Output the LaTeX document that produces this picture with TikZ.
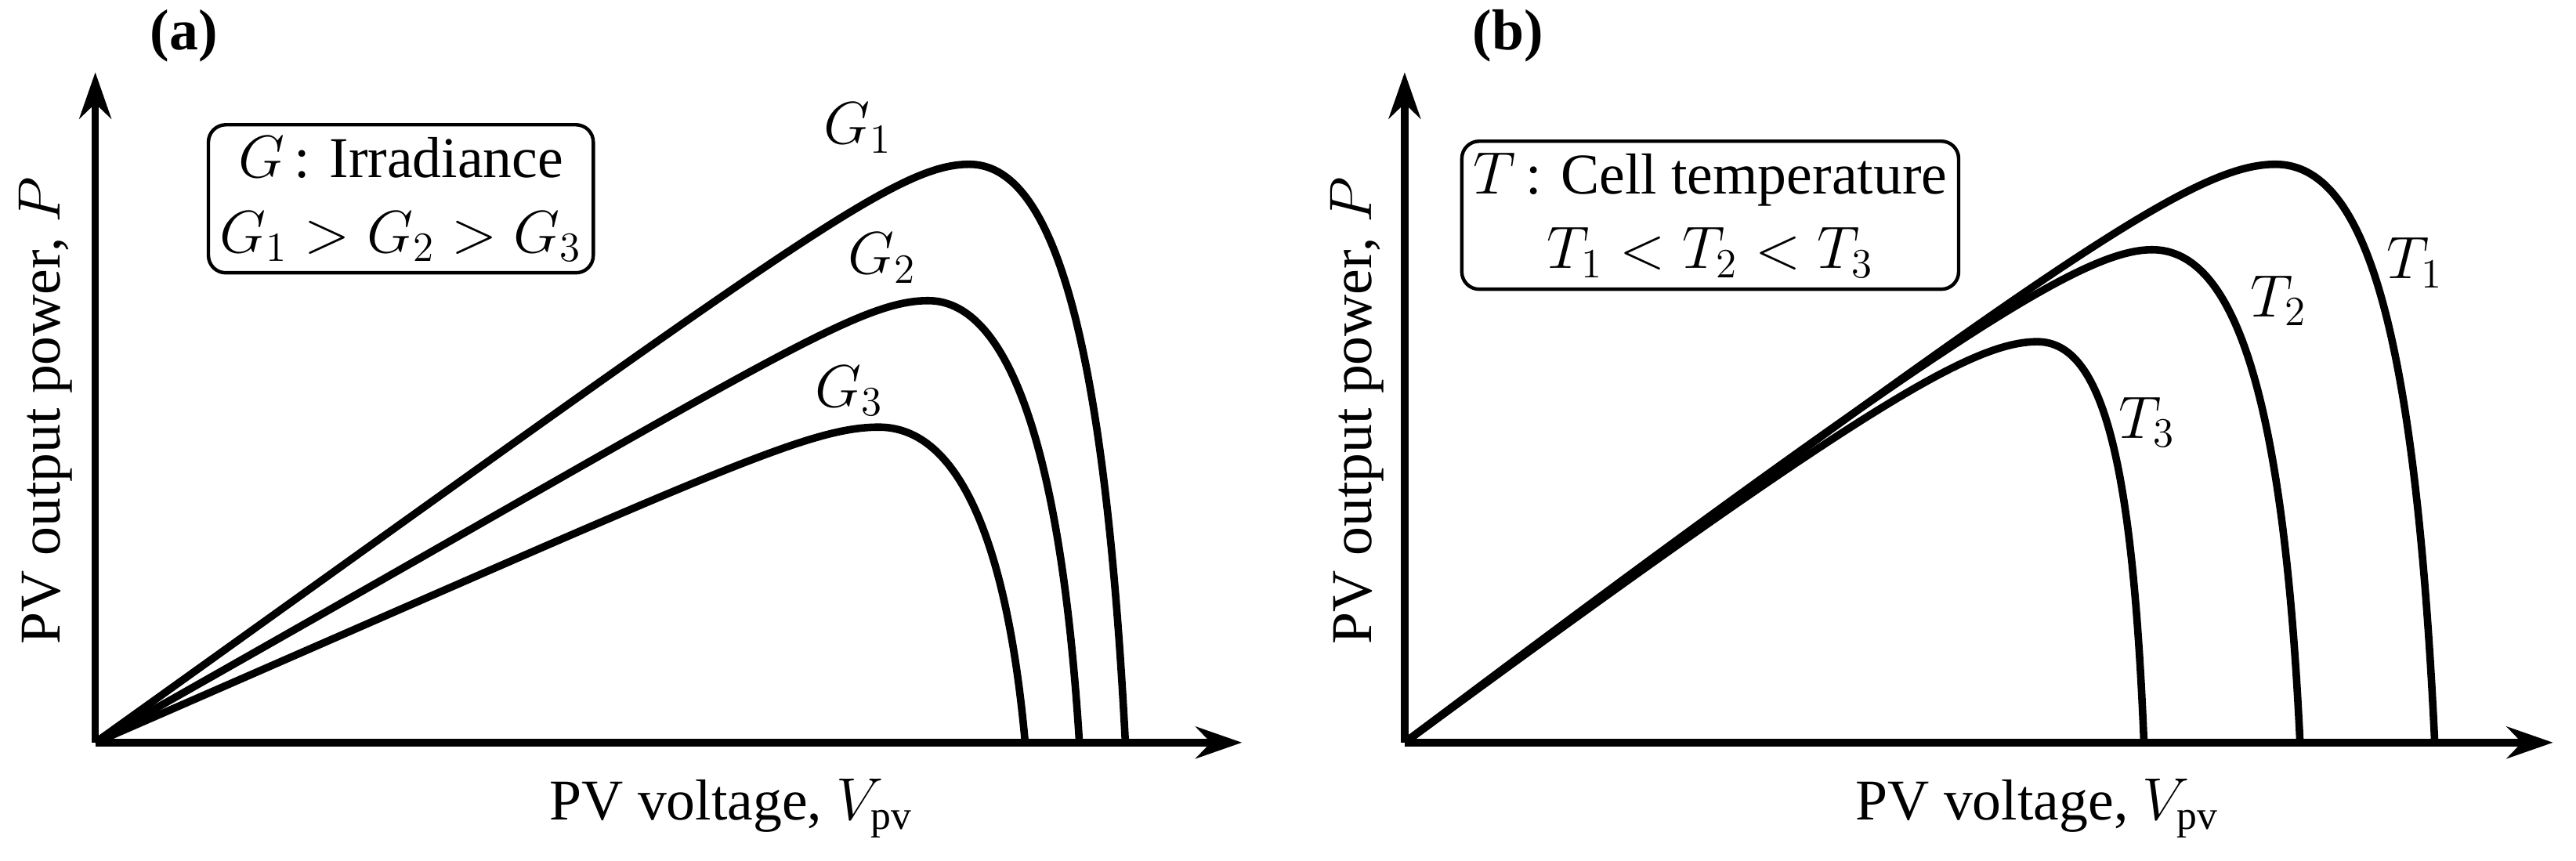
\documentclass[tikz,border=0pt]{standalone}
\usepackage{fontspec}
\setmainfont{Liberation Serif}
\usetikzlibrary{arrows.meta}
\begin{document}
\begin{tikzpicture}[x=0.02cm,y=-0.02cm,
  curve/.style={line width=2.6pt,line join=round},
  axis/.style={line width=2.6pt,-{Stealth[length=16pt,width=11pt]}},
  lbl/.style={font=\fontsize{20}{24}\selectfont},
  info/.style={draw,line width=1.2pt,rounded corners=6pt,align=center,font=\fontsize{20}{26}\selectfont,inner sep=4pt}]
\useasboundingbox (0,0) rectangle (1568,524);
% panel a
\coordinate (Oa) at (58,452);
\coordinate (Ya) at (58,44);
\coordinate (Xa) at (756,452);
\draw[axis] (Oa) -- (Ya);
\draw[axis] (Oa) -- (Xa);
\draw[curve] (Oa) .. controls (480,150) and (545,100) .. (590,100) .. controls (640,100) and (672,200) .. (685,452);
\draw[curve] (Oa) .. controls (460,225) and (520,183) .. (565,183) .. controls (610,183) and (645,260) .. (657,452);
\draw[curve] (Oa) .. controls (430,290) and (490,260) .. (535,260) .. controls (580,260) and (612,320) .. (624,452);
\node[lbl] (g1) at (522,78) {$G_1$};
\node[lbl] (g2) at (537,157) {$G_2$};
\node[lbl] (g3) at (517,238) {$G_3$};
\node[info] (ba) at (244,121) {$G$\,: Irradiance\\ $G_1 > G_2 > G_3$};
\node[lbl,rotate=90] (ya) at (28,250) {PV output power, $P$};
\node[lbl] (xa) at (445,492) {PV voltage, $V_{\mathrm{pv}}$};
\node[lbl] (ta) at (112,22) {\textbf{(a)}};
% panel b
\coordinate (Ob) at (855,452);
\coordinate (Yb) at (855,44);
\coordinate (Xb) at (1554,452);
\draw[axis] (Ob) -- (Yb);
\draw[axis] (Ob) -- (Xb);
\draw[curve] (Ob) .. controls (1250,160) and (1335,100) .. (1385,100) .. controls (1440,100) and (1470,200) .. (1482,452);
\draw[curve] (Ob) .. controls (1190,200) and (1270,152) .. (1310,152) .. controls (1360,152) and (1390,240) .. (1400,452);
\draw[curve] (Ob) .. controls (1130,250) and (1200,208) .. (1240,208) .. controls (1280,208) and (1298,280) .. (1305,452);
\node[lbl] (t1) at (1470,160) {$T_1$};
\node[lbl] (t2) at (1387,183) {$T_2$};
\node[lbl] (t3) at (1307,257) {$T_3$};
\node[info] (bb) at (1041,131) {$T$\,: Cell temperature\\ $T_1 < T_2 < T_3$};
\node[lbl,rotate=90] (yb) at (826,250) {PV output power, $P$};
\node[lbl] (xb) at (1240,492) {PV voltage, $V_{\mathrm{pv}}$};
\node[lbl] (tb) at (918,22) {\textbf{(b)}};
\end{tikzpicture}
\end{document}
